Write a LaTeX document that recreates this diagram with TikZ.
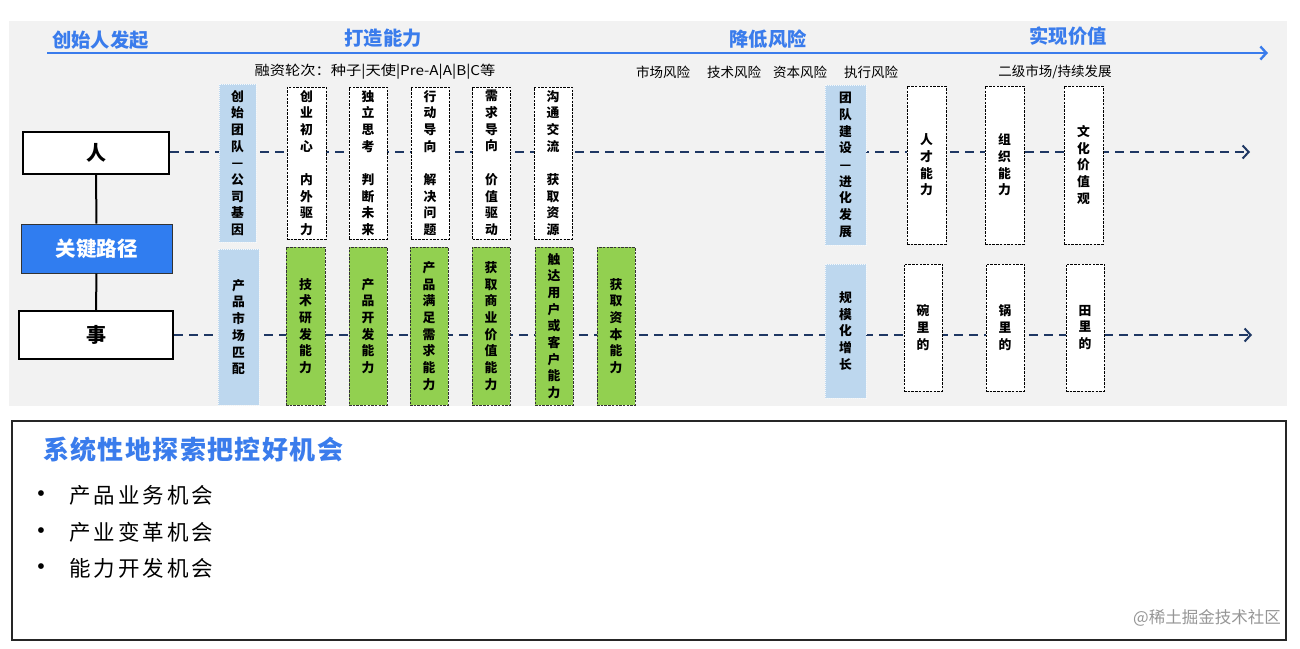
\documentclass[tikz,border=0pt]{standalone}
\usepackage{fontspec}
\usepackage{graphicx}
\setmainfont{Liberation Serif}
\newfontfamily\cjk{Noto Sans CJK SC}
\usetikzlibrary{arrows.meta}
\definecolor{panel}{RGB}{242,242,242}
\definecolor{hblue}{RGB}{58,124,236}
\definecolor{kblue}{RGB}{48,125,240}
\definecolor{lblue}{RGB}{189,215,238}
\definecolor{lgreen}{RGB}{146,208,80}
\definecolor{navy}{RGB}{31,56,100}
\definecolor{wm}{RGB}{150,150,150}
\pgfdeclarelayer{back}
\pgfdeclarelayer{mid}
\pgfsetlayers{back,mid,main}
\newcommand\ks{\kern3pt}
\newcommand\kt{\kern1.4pt}
\tikzset{
  vtxt/.style={align=center,inner sep=0pt,font={\cjk\bfseries\fontsize{12.8}{16.7}\selectfont}},
  wbox/.style={vtxt,draw=black,fill=white,line width=0.7pt,dash pattern=on 2.5pt off 1.2pt},
  gbox/.style={vtxt,draw=black!80,fill=lgreen,line width=0.7pt,dash pattern=on 2.5pt off 1.2pt},
  lbbox/.style={vtxt,draw=white!85!lblue,fill=lblue,line width=0.6pt,dash pattern=on 1pt off 1pt},
  mainbox/.style={draw=black,fill=white,line width=2pt,font={\cjk\bfseries\fontsize{20}{22}\selectfont}},
  keybox/.style={draw=black!80,fill=kblue,line width=1pt,text=white,font={\cjk\bfseries\fontsize{20.5}{22}\selectfont}},
  htitle/.style={text=hblue,font={\cjk\bfseries\fontsize{19.3}{21}\selectfont},inner sep=0pt},
  sub/.style={font={\cjk\fontsize{13.5}{15}\selectfont},inner sep=0pt},
  navyarrow/.style={draw=navy,line width=2.2pt,dash pattern=on 9pt off 6pt,-{Straight Barb[length=6pt,width=13pt,line width=2pt]}},
  item/.style={anchor=west,inner sep=0pt,font={\cjk\fontsize{21.5}{24}\selectfont}},
  bul/.style={inner sep=0pt,font=\fontsize{24}{26}\selectfont},
}
\begin{document}
\begin{tikzpicture}[x=1pt,y=-1pt]
\useasboundingbox (0,0) rectangle (1300,648);
\begin{pgfonlayer}{back}
  \fill[panel] (9,21) rectangle (1287,406);
\end{pgfonlayer}
% headings
\node[htitle,anchor=west] (h1) at (52,40) {创始人发起};
\node[htitle] (h2) at (383,38) {打造能力};
\node[htitle] (h3) at (768,39) {降低风险};
\node[htitle] (h4) at (1068,36) {实现价值};
\coordinate (tA) at (47,53);
\coordinate (tB) at (1268,53);
\draw[hblue,line width=2.6pt,-{Straight Barb[length=6pt,width=13pt,line width=2.4pt]}] (tA) -- (tB);
% sub row
\node[sub] (s1) at (375,72) {\scalebox{1.13}[1]{融资轮次：种子|天使|Pre-A|A|B|C等}};
\node[sub] (s2) at (663,72) {市场风险};
\node[sub] (s3) at (734,72) {技术风险};
\node[sub] (s4) at (800,72) {资本风险};
\node[sub] (s5) at (871,72) {执行风险};
\node[sub] (s6) at (1055,72) {二级市场/持续发展};
% left boxes
\node[mainbox,minimum width=146pt,minimum height=42pt] (P) at (96,153) {人};
\node[keybox,minimum width=151pt,minimum height=49pt] (K) at (96.5,248.5) {关键路径};
\node[mainbox,minimum width=154pt,minimum height=48pt] (E) at (96,335) {事};
\draw[line width=2pt] (P.south) -- (K.north);
\draw[line width=2pt] (K.south) -- (E.north);
% dashed connectors
\coordinate (endP) at (1250,152);
\coordinate (endE) at (1252,335);
\begin{pgfonlayer}{mid}
  \draw[navyarrow] (P.east |- endP) -- (endP);
  \draw[navyarrow] (E.east |- endE) -- (endE);
\end{pgfonlayer}
% top row
\node[lbbox,minimum width=37pt,minimum height=158pt] (A1) at (237.5,163) {创\\始\\团\\队\\—\\公\\司\\基\\因};
\node[wbox,minimum width=39pt,minimum height=152pt] (T1) at (306.5,163) {创\\业\\初\\心\\~\\内\\外\\驱\\力};
\node[wbox,minimum width=38pt,minimum height=152pt] (T2) at (368,163) {独\\立\\思\\考\\~\\判\\断\\未\\来};
\node[wbox,minimum width=38pt,minimum height=152pt] (T3) at (430,163) {行\\动\\导\\向\\~\\解\\决\\问\\题};
\node[wbox,minimum width=38pt,minimum height=152pt] (T4) at (491.5,163) {需\\求\\导\\向\\~\\价\\值\\驱\\动};
\node[wbox,minimum width=38pt,minimum height=152pt] (T5) at (553,163) {沟\\通\\交\\流\\~\\获\\取\\资\\源};
% bottom row
\node[lbbox,minimum width=41pt,minimum height=156pt] (A2) at (238.5,327) {产\\品\\市\\场\\匹\\配};
\node[gbox,minimum width=39pt,minimum height=158pt] (G1) at (305.5,326) {技\\术\\研\\发\\能\\力};
\node[gbox,minimum width=38pt,minimum height=158pt] (G2) at (368,326) {产\\品\\开\\发\\能\\力};
\node[gbox,minimum width=38pt,minimum height=158pt] (G3) at (429,326) {产\\品\\满\\足\\需\\求\\能\\力};
\node[gbox,minimum width=38pt,minimum height=158pt] (G4) at (491,326) {获\\取\\商\\业\\价\\值\\能\\力};
\node[gbox,minimum width=38pt,minimum height=158pt] (G5) at (554,326) {触\\达\\用\\户\\或\\客\\户\\能\\力};
\node[gbox,minimum width=38pt,minimum height=158pt] (G6) at (616,326) {获\\取\\资\\本\\能\\力};
% right top
\node[lbbox,minimum width=41pt,minimum height=160pt] (B1) at (845.5,165) {团\\队\\建\\设\\—\\进\\化\\发\\展};
\node[wbox,minimum width=39pt,minimum height=158pt] (R1) at (926.5,165) {人\\才\\能\\力};
\node[wbox,minimum width=39pt,minimum height=158pt] (R2) at (1004.5,165) {组\\织\\能\\力};
\node[wbox,minimum width=39pt,minimum height=158pt] (R3) at (1083.5,165) {文\\化\\价\\值\\观};
% right bottom
\node[lbbox,minimum width=41pt,minimum height=134pt] (B2) at (845.5,331) {规\\模\\化\\增\\长};
\node[wbox,minimum width=38pt,minimum height=127pt] (S1) at (923,327.5) {碗\\里\\的};
\node[wbox,minimum width=38pt,minimum height=127pt] (S2) at (1005,327.5) {锅\\里\\的};
\node[wbox,minimum width=38pt,minimum height=127pt] (S3) at (1085,327.5) {田\\里\\的};
% bottom box
\node[draw=black!85,line width=2pt,fill=white,minimum width=1274pt,minimum height=219pt,inner sep=0pt] (bot) at (648.5,530.5) {};
\node[anchor=west,inner sep=0pt,text=hblue,font={\cjk\bfseries\fontsize{26}{28}\selectfont}] (bt) at (43,450) {系\kt 统\kt 性\kt 地\kt 探\kt 索\kt 把\kt 控\kt 好\kt 机\kt 会};
\node[bul] (b1) at (41,496) {•};
\node[bul] (b2) at (41,533) {•};
\node[bul] (b3) at (41,569) {•};
\node[item] (i1) at (69,495) {产\ks 品\ks 业\ks 务\ks 机\ks 会};
\node[item] (i2) at (69,532) {产\ks 业\ks 变\ks 革\ks 机\ks 会};
\node[item] (i3) at (69,568) {能\ks 力\ks 开\ks 发\ks 机\ks 会};
\node[anchor=east,inner sep=0pt,text=wm,font={\cjk\fontsize{16.5}{18}\selectfont}] (w) at (1281,618) {@稀土掘金技术社区};
\end{tikzpicture}
\end{document}
